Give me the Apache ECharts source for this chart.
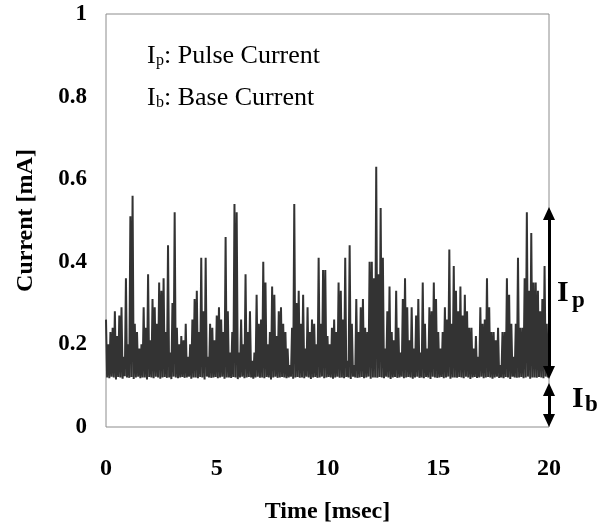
<!DOCTYPE html>
<html><head><meta charset="utf-8">
<script src="https://cdn.jsdelivr.net/npm/echarts@6/dist/echarts.min.js"></script>
<style>html,body{margin:0;padding:0;background:#fff}#c{width:608px;height:526px}</style>
</head><body><div id="c"></div><script>
// sampling step of the trace (ms): peak sample, then trough sample half a step later
const sampleStepMs = 0.1;
// peak value of each 0.1 ms slot (mA)
const pulsePeaks = [
0.26,0.20,0.23,0.24,0.28,0.22,0.27,0.29,0.17,0.36,0.20,0.51,0.56,0.25,0.23,0.19,0.20,0.29,0.24,0.37,
0.21,0.31,0.29,0.25,0.35,0.33,0.36,0.23,0.44,0.18,0.30,0.52,0.24,0.20,
0.22,0.21,0.25,0.17,0.20,0.26,0.31,0.33,0.23,0.41,0.28,0.41,0.17,0.25,0.24,0.21,0.27,0.29,0.26,0.23,
0.46,0.28,0.18,0.23,0.54,0.52,0.18,0.26,0.20,0.37,0.23,0.28,0.16,
0.18,0.32,0.25,0.26,0.40,0.35,0.20,0.23,0.34,0.32,0.22,0.28,0.29,0.25,0.23,0.19,0.15,0.24,0.54,0.30,
0.33,0.25,0.32,0.19,0.29,0.23,0.26,0.25,0.20,0.41,0.25,0.38,0.38,
0.22,0.20,0.24,0.26,0.23,0.35,0.33,0.26,0.41,0.16,0.44,0.25,0.15,0.31,0.23,0.29,0.31,0.24,0.23,0.40,
0.40,0.36,0.63,0.37,0.53,0.41,0.19,0.28,0.34,0.23,0.21,0.33,0.24,0.18,
0.31,0.36,0.29,0.21,0.29,0.19,0.27,0.31,0.18,0.35,0.25,0.19,0.29,0.28,0.35,0.31,0.23,0.19,0.23,0.29,
0.26,0.43,0.25,0.39,0.33,0.28,0.34,0.27,0.32,0.28,0.24,0.24,0.19,
0.22,0.17,0.29,0.25,0.26,0.36,0.29,0.23,0.23,0.21,0.24,0.15,0.23,0.23,0.36,0.32,0.25,0.17,0.25,0.41,
0.24,0.24,0.36,0.52,0.33,0.47,0.35,0.35,0.33,0.28,0.31,0.39,0.25
];
// trough value following each peak (mA)
const baseTroughs = [
0.12,0.118,0.122,0.12,0.115,0.121,0.12,0.117,0.123,0.12,0.119,0.121,0.116,0.12,0.122,0.118,0.12,0.12,0.115,0.121,
0.12,0.118,0.122,0.12,0.117,0.12,0.121,0.119,0.12,0.116,0.122,0.12,0.118,0.12,0.121,0.119,0.12,0.122,0.117,0.12,
0.12,0.118,0.121,0.12,0.115,0.122,0.12,0.119,0.12,0.121,0.118,0.12,0.122,0.117,0.12,0.12,0.119,0.121,0.12,0.116,
0.12,0.122,0.118,0.12,0.121,0.12,0.117,0.12,0.122,0.119,0.12,0.118,0.121,0.12,0.115,0.12,0.122,0.119,0.12,0.121,
0.12,0.118,0.12,0.122,0.117,0.12,0.121,0.119,0.12,0.118,0.122,0.12,0.116,0.12,0.121,0.119,0.12,0.122,0.118,0.12,
0.121,0.12,0.117,0.12,0.122,0.119,0.12,0.118,0.121,0.12,0.116,0.122,0.12,0.119,0.12,0.121,0.118,0.12,0.122,0.117,
0.12,0.12,0.119,0.121,0.12,0.118,0.122,0.12,0.116,0.12,0.121,0.119,0.12,0.122,0.118,0.12,0.121,0.12,0.117,0.12,
0.122,0.119,0.12,0.118,0.121,0.12,0.116,0.122,0.12,0.119,0.12,0.121,0.118,0.12,0.122,0.117,0.12,0.12,0.119,0.121,
0.12,0.118,0.122,0.12,0.116,0.12,0.121,0.119,0.12,0.122,0.118,0.12,0.121,0.12,0.117,0.12,0.122,0.119,0.12,0.118,
0.121,0.12,0.116,0.122,0.12,0.119,0.12,0.121,0.118,0.12,0.122,0.117,0.12,0.12,0.119,0.121,0.12,0.118,0.122,0.12
];
const xTicks = [0, 5, 10, 15, 20];
const yTicks = [0, 0.2, 0.4, 0.6, 0.8, 1];
// arrow end points (mA) at t = 20 ms (arrowhead centres)
const arrowTime = 20;
const ipArrow = [0.517, 0.132];
const ibArrow = [0.091, 0.016];

const trace = [];
for (let i = 0; i < pulsePeaks.length; i++) {
  trace.push([i * sampleStepMs, pulsePeaks[i]]);
  trace.push([i * sampleStepMs + sampleStepMs / 2, baseTroughs[i]]);
}

const serif = 'Liberation Serif';
const chart = echarts.init(document.getElementById('c'), null, {renderer: 'canvas'});
chart.setOption({
  animation: false,
  backgroundColor: '#fff',
  grid: {left: 106, right: 59, top: 14, bottom: 99, show: true, borderColor: '#8c8c8c', borderWidth: 1,
         containLabel: false, outerBoundsMode: 'none'},
  xAxis: {
    type: 'value', min: xTicks[0], max: xTicks[xTicks.length - 1], interval: 5,
    name: 'Time [msec]', nameLocation: 'middle', nameGap: 73,
    nameTextStyle: {fontFamily: serif, fontWeight: 'bold', fontSize: 24, color: '#000'},
    axisLine: {show: false}, axisTick: {show: false}, splitLine: {show: false},
    axisLabel: {margin: 30, fontFamily: serif, fontWeight: 'bold', fontSize: 24, color: '#000'}
  },
  yAxis: {
    type: 'value', min: yTicks[0], max: yTicks[yTicks.length - 1], interval: 0.2,
    name: 'Current [mA]', nameLocation: 'middle', nameGap: 68,
    nameTextStyle: {fontFamily: serif, fontWeight: 'bold', fontSize: 24, color: '#000'},
    axisLine: {show: false}, axisTick: {show: false}, splitLine: {show: false},
    axisLabel: {margin: 19, fontFamily: serif, fontWeight: 'bold', fontSize: 23, color: '#000'}
  },
  series: [
    {
      type: 'line', data: trace, showSymbol: false, symbol: 'none',
      lineStyle: {color: '#333', width: 2}, z: 2
    },
    {
      type: 'line', data: [], clip: false, z: 5,
      markLine: {
        silent: true, symbol: ['triangle', 'triangle'], symbolSize: [12, 13],
        lineStyle: {color: '#000', width: 3, type: 'solid'},
        label: {show: false},
        data: [
          [{coord: [arrowTime, ipArrow[0]]}, {coord: [arrowTime, ipArrow[1]]}],
          [{coord: [arrowTime, ibArrow[0]]}, {coord: [arrowTime, ibArrow[1]]}]
        ]
      }
    }
  ],
  graphic: [
    {type: 'text', left: 147, top: 43, style: {text: 'I', font: '26px ' + serif, fill: '#000'}},
    {type: 'text', left: 156, top: 53, style: {text: 'p', font: '16px ' + serif, fill: '#000'}},
    {type: 'text', left: 164, top: 43, style: {text: ': Pulse Current', font: '26px ' + serif, fill: '#000'}},
    {type: 'text', left: 147, top: 85, style: {text: 'I', font: '26px ' + serif, fill: '#000'}},
    {type: 'text', left: 156, top: 95, style: {text: 'b', font: '16px ' + serif, fill: '#000'}},
    {type: 'text', left: 164, top: 85, style: {text: ': Base Current', font: '26px ' + serif, fill: '#000'}},
    {type: 'text', left: 557, top: 278, style: {text: 'I', font: 'bold 30px ' + serif, fill: '#000'}},
    {type: 'text', left: 572, top: 290, style: {text: 'p', font: 'bold 23px ' + serif, fill: '#000'}},
    {type: 'text', left: 572, top: 384, style: {text: 'I', font: 'bold 30px ' + serif, fill: '#000'}},
    {type: 'text', left: 585, top: 394, style: {text: 'b', font: 'bold 23px ' + serif, fill: '#000'}}
  ]
});
</script></body></html>
